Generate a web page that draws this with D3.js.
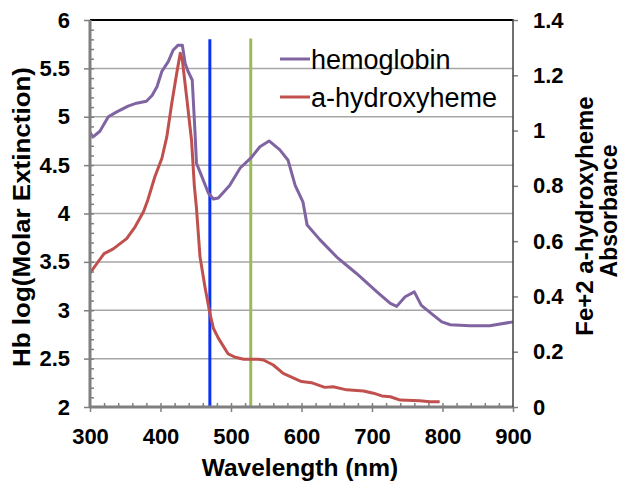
<!DOCTYPE html>
<html>
<head>
<meta charset="utf-8">
<script src="https://cdn.jsdelivr.net/npm/d3@7"></script>
<style>
  body { margin: 0; background: #fff; }
  text { font-family: "Liberation Sans", Arial, sans-serif; }
</style>
</head>
<body>
<svg id="chart" width="624" height="481"></svg>
<script>
// hemoglobin, log molar extinction (left axis)
var hbNm  = [300, 304, 314, 326, 338, 354, 366, 380, 388, 395, 402, 411, 418, 425, 431, 435, 439, 445, 449, 451, 456, 468, 475, 482, 498, 513, 529, 541, 554, 569, 581, 591, 602, 608, 626, 650, 678, 707, 726, 735, 747, 760, 770, 787, 799, 811, 839, 867, 900];
var hbVal = [4.84, 4.79, 4.85, 5.0, 5.05, 5.11, 5.14, 5.16, 5.22, 5.31, 5.47, 5.57, 5.69, 5.74, 5.74, 5.55, 5.47, 5.38, 4.83, 4.52, 4.43, 4.21, 4.15, 4.16, 4.29, 4.47, 4.58, 4.69, 4.75, 4.66, 4.55, 4.29, 4.12, 3.88, 3.73, 3.55, 3.38, 3.19, 3.07, 3.04, 3.14, 3.19, 3.05, 2.95, 2.88, 2.85, 2.84, 2.84, 2.88];

// Fe+2 a-hydroxyheme absorbance (right axis)
var ahNm  = [300, 310, 320, 333, 352, 364, 376, 382, 392, 402, 409, 416, 423, 428, 431, 437, 444, 448, 451, 456, 463, 470, 475, 482, 496, 506, 518, 539, 546, 560, 574, 600, 614, 633, 645, 664, 688, 702, 714, 726, 740, 768, 782, 796];
var ahVal = [0.484, 0.52, 0.555, 0.572, 0.609, 0.652, 0.707, 0.749, 0.833, 0.90, 0.978, 1.099, 1.207, 1.28, 1.255, 1.123, 0.966, 0.8, 0.72, 0.544, 0.435, 0.339, 0.285, 0.249, 0.192, 0.18, 0.173, 0.173, 0.17, 0.152, 0.122, 0.092, 0.088, 0.071, 0.073, 0.062, 0.058, 0.05, 0.04, 0.037, 0.025, 0.023, 0.019, 0.019];

var seriesNames = ["hemoglobin", "a-hydroxyheme"];
var markerNm = [470, 528];   // blue and green marker lines
var markerTop = [5.8, 5.81]; // top of marker lines on left scale

var xTicks = [300, 400, 500, 600, 700, 800, 900];
var yLeftTicks = [2, 2.5, 3, 3.5, 4, 4.5, 5, 5.5, 6];
var yRightTicks = [0, 0.2, 0.4, 0.6, 0.8, 1, 1.2, 1.4];

var svg = d3.select("#chart");
var plot = {left: 90, right: 513, top: 20, bottom: 407};

var x = d3.scaleLinear().domain([300, 900]).range([plot.left, plot.right]);
var yL = d3.scaleLinear().domain([2, 6]).range([plot.bottom, plot.top]);
var yR = d3.scaleLinear().domain([0, 1.4]).range([plot.bottom, plot.top]);

// gridlines
svg.append("g").selectAll("line")
    .data(yLeftTicks.slice(1, -1))
    .enter().append("line")
    .attr("x1", plot.left).attr("x2", plot.right)
    .attr("y1", function(d){ return yL(d); })
    .attr("y2", function(d){ return yL(d); })
    .style("stroke", "#a6a6a6").style("stroke-width", 1.5);

// top border
svg.append("line")
    .attr("x1", plot.left).attr("x2", plot.right).attr("y1", plot.top).attr("y2", plot.top)
    .style("stroke", "#000").style("stroke-width", 2);

// marker lines
var markerColors = ["#0a32f5", "#9bbb59"];
svg.append("g").selectAll("line")
    .data(markerNm)
    .enter().append("line")
    .attr("x1", function(d){ return x(d); })
    .attr("x2", function(d){ return x(d); })
    .attr("y1", function(d, i){ return yL(markerTop[i]); })
    .attr("y2", plot.bottom)
    .style("stroke", function(d, i){ return markerColors[i]; })
    .style("stroke-width", 3);

// curves
var hbLine = d3.line()
    .x(function(d, i){ return x(hbNm[i]); })
    .y(function(d){ return yL(d); });
var ahLine = d3.line()
    .x(function(d, i){ return x(ahNm[i]); })
    .y(function(d){ return yR(d); });

svg.append("path").datum(hbVal)
    .attr("d", hbLine)
    .style("fill", "none").style("stroke", "#8064a2").style("stroke-width", 3)
    .style("stroke-linejoin", "round");
svg.append("path").datum(ahVal)
    .attr("d", ahLine)
    .style("fill", "none").style("stroke", "#c0504d").style("stroke-width", 3)
    .style("stroke-linejoin", "round");

// axes
var gx = svg.append("g").attr("transform", "translate(0," + plot.bottom + ")");
gx.call(d3.axisBottom(x).tickValues(d3.range(320, 900, 20)).tickSize(-4).tickFormat(""));
gx.append("g").call(d3.axisBottom(x).tickValues(xTicks).tickSize(5).tickPadding(16).tickFormat(d3.format("d")));

var gl = svg.append("g").attr("transform", "translate(" + plot.left + ",0)");
gl.call(d3.axisLeft(yL).tickValues(d3.range(21, 60, 1).map(function(d){ return d / 10; })).tickSize(-4).tickFormat(""));
gl.append("g").call(d3.axisLeft(yL).tickValues(yLeftTicks).tickSize(6).tickPadding(14).tickFormat(d3.format("")));

var gr = svg.append("g").attr("transform", "translate(" + plot.right + ",0)");
gr.call(d3.axisRight(yR).tickValues(yRightTicks).tickSize(5).tickPadding(15).tickFormat(d3.format("")));

svg.selectAll(".domain").style("stroke", "none");
svg.selectAll(".tick line").style("stroke", "#7f7f7f").style("stroke-width", 1.5);
svg.selectAll(".tick text")
    .style("font-size", "22px").style("font-weight", "bold").style("fill", "#000")
    .style("font-family", "'Liberation Sans', Arial, sans-serif");

// axis lines
svg.append("line").attr("x1", plot.left).attr("x2", plot.left).attr("y1", plot.top).attr("y2", plot.bottom + 1)
    .style("stroke", "#7f7f7f").style("stroke-width", 3);
svg.append("line").attr("x1", plot.left).attr("x2", plot.right).attr("y1", plot.bottom).attr("y2", plot.bottom)
    .style("stroke", "#7f7f7f").style("stroke-width", 3);
svg.append("line").attr("x1", plot.right).attr("x2", plot.right).attr("y1", plot.top - 1).attr("y2", plot.bottom)
    .style("stroke", "#404040").style("stroke-width", 1.5);

// axis titles
svg.append("text")
    .attr("x", 300).attr("y", 476)
    .attr("text-anchor", "middle")
    .style("font-size", "24.5px").style("font-weight", "bold")
    .text("Wavelength (nm)");

svg.append("text")
    .attr("transform", "translate(30,217) rotate(-90)")
    .attr("text-anchor", "middle")
    .attr("textLength", 300).attr("lengthAdjust", "spacingAndGlyphs")
    .style("font-size", "24px").style("font-weight", "bold")
    .text("Hb log(Molar Extinction)");

svg.append("text")
    .attr("transform", "translate(593,216) rotate(-90)")
    .attr("text-anchor", "middle")
    .style("font-size", "24px").style("font-weight", "bold")
    .text("Fe+2 a-hydroxyheme");
svg.append("text")
    .attr("transform", "translate(617,211) rotate(-90)")
    .attr("text-anchor", "middle")
    .style("font-size", "23px").style("font-weight", "bold")
    .text("Absorbance");

// legend
var legendColors = ["#8064a2", "#c0504d"];
var lg = svg.append("g").selectAll("g")
    .data(seriesNames)
    .enter().append("g")
    .attr("transform", function(d, i){ return "translate(280," + (59 + i * 38) + ")"; });
lg.append("line").attr("x1", 0).attr("x2", 30)
    .style("stroke", function(d, i){ return legendColors[i]; }).style("stroke-width", 3);
lg.append("text").attr("x", 31).attr("y", 10)
    .style("font-size", "27px")
    .text(function(d){ return d; });
</script>
</body>
</html>
